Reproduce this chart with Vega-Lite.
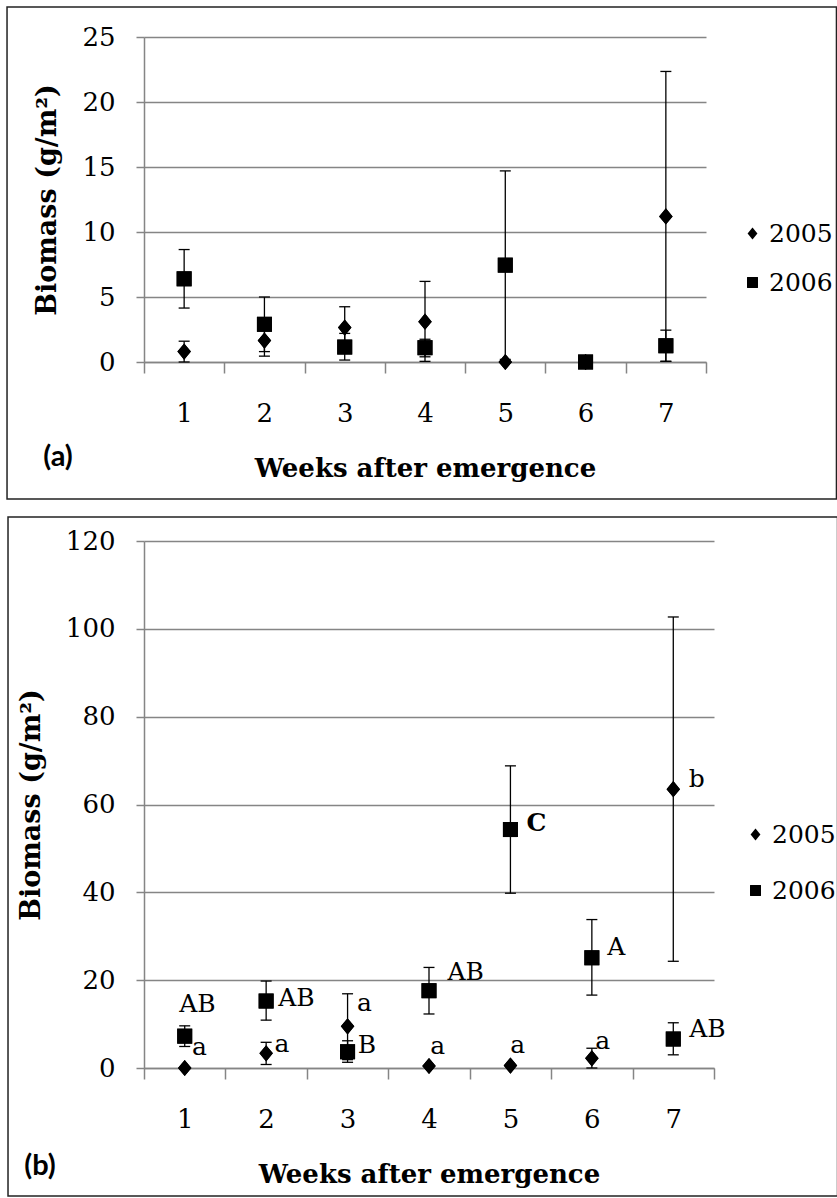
{
  "$schema": "https://vega.github.io/schema/vega-lite/v6.json",
  "padding": {"left": 6, "top": 6, "right": 0, "bottom": 0},
  "background": "white",
  "spacing": 16,
  "resolve": {"scale": {"shape": "independent"}, "legend": {"shape": "independent"}},
  "config": {
    "view": {"stroke": null},
    "font": "DejaVu Serif",
    "axis": {
      "labelFont": "DejaVu Serif",
      "labelFontSize": 26,
      "labelColor": "black",
      "titleFont": "DejaVu Serif",
      "titleFontSize": 26,
      "titleFontWeight": "bold",
      "titleColor": "black",
      "domainColor": "#858585",
      "domainWidth": 1.5,
      "tickColor": "#858585",
      "tickWidth": 1.5,
      "gridColor": "#858585",
      "gridWidth": 1.5,
      "labelOverlap": false,
      "labelFlush": false,
      "labelBound": false
    },
    "legend": {
      "labelFont": "DejaVu Serif",
      "labelFontSize": 25,
      "labelColor": "black",
      "symbolFillColor": "black",
      "symbolStrokeWidth": 0,
      "symbolSize": 120,
      "padding": 0,
      "labelOffset": 4
    }
  },
  "datasets": {
    "ptsA": [
      {"week": 1, "year": "2005", "mean": 0.8, "lo": 0.0, "hi": 1.6},
      {"week": 2, "year": "2005", "mean": 1.65, "lo": 0.45, "hi": 2.85},
      {"week": 3, "year": "2005", "mean": 2.65, "lo": 1.05, "hi": 4.25},
      {"week": 4, "year": "2005", "mean": 3.1, "lo": 0.05, "hi": 6.2},
      {"week": 5, "year": "2005", "mean": 0.0, "lo": null, "hi": null},
      {"week": 6, "year": "2005", "mean": 0.0, "lo": null, "hi": null},
      {"week": 7, "year": "2005", "mean": 11.2, "lo": 0.05, "hi": 22.35},
      {"week": 1, "year": "2006", "mean": 6.4, "lo": 4.15, "hi": 8.65},
      {"week": 2, "year": "2006", "mean": 2.9, "lo": 0.8, "hi": 5.0},
      {"week": 3, "year": "2006", "mean": 1.15, "lo": 0.15, "hi": 2.2},
      {"week": 4, "year": "2006", "mean": 1.1, "lo": 0.4, "hi": 1.75},
      {"week": 5, "year": "2006", "mean": 7.45, "lo": 0.2, "hi": 14.7},
      {"week": 6, "year": "2006", "mean": 0.0, "lo": null, "hi": null},
      {"week": 7, "year": "2006", "mean": 1.25, "lo": 0.05, "hi": 2.45}
    ],
    "ptsB": [
      {"week": 1, "year": "2005", "mean": 0.0, "lo": null, "hi": null},
      {"week": 2, "year": "2005", "mean": 3.35, "lo": 0.8, "hi": 5.85},
      {"week": 3, "year": "2005", "mean": 9.5, "lo": 1.9, "hi": 16.9},
      {"week": 4, "year": "2005", "mean": 0.45, "lo": null, "hi": null},
      {"week": 5, "year": "2005", "mean": 0.55, "lo": null, "hi": null},
      {"week": 6, "year": "2005", "mean": 2.2, "lo": 0.0, "hi": 4.5},
      {"week": 7, "year": "2005", "mean": 63.5, "lo": 24.3, "hi": 102.7},
      {"week": 1, "year": "2006", "mean": 7.25, "lo": 4.9, "hi": 9.6},
      {"week": 2, "year": "2006", "mean": 15.25, "lo": 10.9, "hi": 19.8},
      {"week": 3, "year": "2006", "mean": 3.7, "lo": 1.3, "hi": 6.2},
      {"week": 4, "year": "2006", "mean": 17.6, "lo": 12.3, "hi": 22.9},
      {"week": 5, "year": "2006", "mean": 54.3, "lo": 39.8, "hi": 68.8},
      {"week": 6, "year": "2006", "mean": 25.1, "lo": 16.6, "hi": 33.8},
      {"week": 7, "year": "2006", "mean": 6.6, "lo": 3.0, "hi": 10.3}
    ],
    "labB": [
      {"x": 1.157, "y": 14.6, "label": "AB"},
      {"x": 1.182, "y": 4.7, "label": "a"},
      {"x": 2.373, "y": 16.0, "label": "AB"},
      {"x": 2.195, "y": 5.4, "label": "a"},
      {"x": 3.206, "y": 14.9, "label": "a"},
      {"x": 3.239, "y": 5.2, "label": "B"},
      {"x": 4.45, "y": 21.8, "label": "AB"},
      {"x": 4.107, "y": 5.1, "label": "a"},
      {"x": 5.32, "y": 55.8, "label": "C"},
      {"x": 5.09, "y": 5.2, "label": "a"},
      {"x": 6.3, "y": 27.6, "label": "A"},
      {"x": 6.133, "y": 6.2, "label": "a"},
      {"x": 7.287, "y": 65.7, "label": "b"},
      {"x": 7.42, "y": 8.8, "label": "AB"}
    ],
    "frameA": [{"x1": -1.206, "x2": 9.125, "y1": -10.54, "y2": 27.31}],
    "frameB": [{"x1": -1.17, "x2": 9.017, "y1": -29.14, "y2": 125.46}],
    "tagA": [{"x": -0.571, "y": -7.3, "tag": "(a)"}],
    "tagB": [{"x": -0.777, "y": -22.3, "tag": "(b)"}]
  },
  "vconcat": [
    {
      "width": 562,
      "height": 325,
      "layer": [
        {
          "data": {"name": "ptsA"},
          "mark": {"type": "point", "filled": true, "color": "black", "opacity": 1, "size": 225},
          "encoding": {
            "x": {"field": "week", "type": "quantitative", "title": "Weeks after emergence", "scale": {"domain": [0.5, 7.5], "nice": false, "zero": false},
              "axis": {"title": "Weeks after emergence", "values": [0.5, 1.5, 2.5, 3.5, 4.5, 5.5, 6.5, 7.5], "grid": false, "tickSize": 11, "labelOffset": 40.1, "labelPadding": 27, "titlePadding": 29,
                "labelExpr": "datum.value < 7 ? format(datum.value + 0.5, 'd') : ''"}},
            "y": {"field": "mean", "type": "quantitative", "title": "Biomass (g/m²)", "scale": {"domain": [0, 25], "nice": false, "zero": false},
              "axis": {"title": "Biomass (g/m²)", "titleFontSize": 27, "values": [0, 5, 10, 15, 20, 25], "grid": true, "tickSize": 8, "labelPadding": 21, "titlePadding": 20}},
            "shape": {"field": "year", "type": "nominal", "scale": {"domain": ["2005", "2006"], "range": ["M0,-1.08L0.9,0L0,1.08L-0.9,0Z", "square"]},
              "legend": {"title": null, "orient": "none", "legendX": 596, "legendY": 184, "rowPadding": 23}}
          }
        },
        {
          "data": {"name": "frameA"},
          "mark": {"type": "rect", "fill": null, "stroke": "#222222", "strokeWidth": 1.5},
          "encoding": {
            "x": {"field": "x1", "type": "quantitative", "title": "Weeks after emergence"},
            "x2": {"field": "x2"},
            "y": {"field": "y1", "type": "quantitative", "title": "Biomass (g/m²)"},
            "y2": {"field": "y2"}
          }
        },
        {
          "data": {"name": "tagA"},
          "mark": {"type": "text", "font": "Lato", "fontWeight": "bold", "fontSize": 29, "align": "center", "baseline": "middle", "color": "black"},
          "encoding": {
            "x": {"field": "x", "type": "quantitative", "title": "Weeks after emergence"},
            "y": {"field": "y", "type": "quantitative", "title": "Biomass (g/m²)"},
            "text": {"field": "tag"}
          }
        },
        {
          "data": {"name": "ptsA"},
          "mark": {"type": "rule", "color": "black", "strokeWidth": 1.3},
          "encoding": {
            "x": {"field": "week", "type": "quantitative", "title": "Weeks after emergence"},
            "y": {"field": "lo", "type": "quantitative", "title": "Biomass (g/m²)"},
            "y2": {"field": "hi"}
          }
        },
        {
          "data": {"name": "ptsA"},
          "mark": {"type": "tick", "orient": "horizontal", "color": "black", "size": 11, "thickness": 1.3, "opacity": 1},
          "encoding": {
            "x": {"field": "week", "type": "quantitative", "title": "Weeks after emergence"},
            "y": {"field": "lo", "type": "quantitative", "title": "Biomass (g/m²)"}
          }
        },
        {
          "data": {"name": "ptsA"},
          "mark": {"type": "tick", "orient": "horizontal", "color": "black", "size": 11, "thickness": 1.3, "opacity": 1},
          "encoding": {
            "x": {"field": "week", "type": "quantitative", "title": "Weeks after emergence"},
            "y": {"field": "hi", "type": "quantitative", "title": "Biomass (g/m²)"}
          }
        },
        {
          "data": {"name": "ptsA"},
          "mark": {"type": "point", "filled": true, "color": "black", "opacity": 1, "size": 225},
          "encoding": {
            "x": {"field": "week", "type": "quantitative", "title": "Weeks after emergence"},
            "y": {"field": "mean", "type": "quantitative", "title": "Biomass (g/m²)"},
            "shape": {"field": "year", "type": "nominal", "legend": null}
          }
        }
      ]
    },
    {
      "width": 570,
      "height": 527,
      "layer": [
        {
          "data": {"name": "ptsB"},
          "mark": {"type": "point", "filled": true, "color": "black", "opacity": 1, "size": 225},
          "encoding": {
            "x": {"field": "week", "type": "quantitative", "title": "Weeks after emergence", "scale": {"domain": [0.5, 7.5], "nice": false, "zero": false},
              "axis": {"title": "Weeks after emergence", "values": [0.5, 1.5, 2.5, 3.5, 4.5, 5.5, 6.5, 7.5], "grid": false, "tickSize": 11, "labelOffset": 40.7, "labelPadding": 27, "titlePadding": 29,
                "labelExpr": "datum.value < 7 ? format(datum.value + 0.5, 'd') : ''"}},
            "y": {"field": "mean", "type": "quantitative", "title": "Biomass (g/m²)", "scale": {"domain": [0, 120], "nice": false, "zero": false},
              "axis": {"title": "Biomass (g/m²)", "titleFontSize": 27, "values": [0, 20, 40, 60, 80, 100, 120], "grid": true, "tickSize": 8, "labelPadding": 21, "titlePadding": 20}},
            "shape": {"field": "year", "type": "nominal", "scale": {"domain": ["2005", "2006"], "range": ["M0,-1.08L0.9,0L0,1.08L-0.9,0Z", "square"]},
              "legend": {"title": null, "orient": "none", "legendX": 599, "legendY": 281, "rowPadding": 30}}
          }
        },
        {
          "data": {"name": "frameB"},
          "mark": {"type": "rect", "fill": null, "stroke": "#222222", "strokeWidth": 1.5},
          "encoding": {
            "x": {"field": "x1", "type": "quantitative", "title": "Weeks after emergence"},
            "x2": {"field": "x2"},
            "y": {"field": "y1", "type": "quantitative", "title": "Biomass (g/m²)"},
            "y2": {"field": "y2"}
          }
        },
        {
          "data": {"name": "tagB"},
          "mark": {"type": "text", "font": "Lato", "fontWeight": "bold", "fontSize": 29, "align": "center", "baseline": "middle", "color": "black"},
          "encoding": {
            "x": {"field": "x", "type": "quantitative", "title": "Weeks after emergence"},
            "y": {"field": "y", "type": "quantitative", "title": "Biomass (g/m²)"},
            "text": {"field": "tag"}
          }
        },
        {
          "data": {"name": "ptsB"},
          "mark": {"type": "rule", "color": "black", "strokeWidth": 1.3},
          "encoding": {
            "x": {"field": "week", "type": "quantitative", "title": "Weeks after emergence"},
            "y": {"field": "lo", "type": "quantitative", "title": "Biomass (g/m²)"},
            "y2": {"field": "hi"}
          }
        },
        {
          "data": {"name": "ptsB"},
          "mark": {"type": "tick", "orient": "horizontal", "color": "black", "size": 11, "thickness": 1.3, "opacity": 1},
          "encoding": {
            "x": {"field": "week", "type": "quantitative", "title": "Weeks after emergence"},
            "y": {"field": "lo", "type": "quantitative", "title": "Biomass (g/m²)"}
          }
        },
        {
          "data": {"name": "ptsB"},
          "mark": {"type": "tick", "orient": "horizontal", "color": "black", "size": 11, "thickness": 1.3, "opacity": 1},
          "encoding": {
            "x": {"field": "week", "type": "quantitative", "title": "Weeks after emergence"},
            "y": {"field": "hi", "type": "quantitative", "title": "Biomass (g/m²)"}
          }
        },
        {
          "data": {"name": "ptsB"},
          "mark": {"type": "point", "filled": true, "color": "black", "opacity": 1, "size": 225},
          "encoding": {
            "x": {"field": "week", "type": "quantitative", "title": "Weeks after emergence"},
            "y": {"field": "mean", "type": "quantitative", "title": "Biomass (g/m²)"},
            "shape": {"field": "year", "type": "nominal", "legend": null}
          }
        },
        {
          "data": {"name": "labB"},
          "transform": [{"filter": "datum.label !== 'C'"}],
          "mark": {"type": "text", "font": "DejaVu Serif", "fontSize": 25, "align": "center", "baseline": "middle", "color": "black"},
          "encoding": {
            "x": {"field": "x", "type": "quantitative", "title": "Weeks after emergence"},
            "y": {"field": "y", "type": "quantitative", "title": "Biomass (g/m²)"},
            "text": {"field": "label"}
          }
        },
        {
          "data": {"name": "labB"},
          "transform": [{"filter": "datum.label === 'C'"}],
          "mark": {"type": "text", "font": "DejaVu Serif", "fontSize": 25, "fontWeight": "bold", "align": "center", "baseline": "middle", "color": "black"},
          "encoding": {
            "x": {"field": "x", "type": "quantitative", "title": "Weeks after emergence"},
            "y": {"field": "y", "type": "quantitative", "title": "Biomass (g/m²)"},
            "text": {"field": "label"}
          }
        }
      ]
    }
  ]
}
